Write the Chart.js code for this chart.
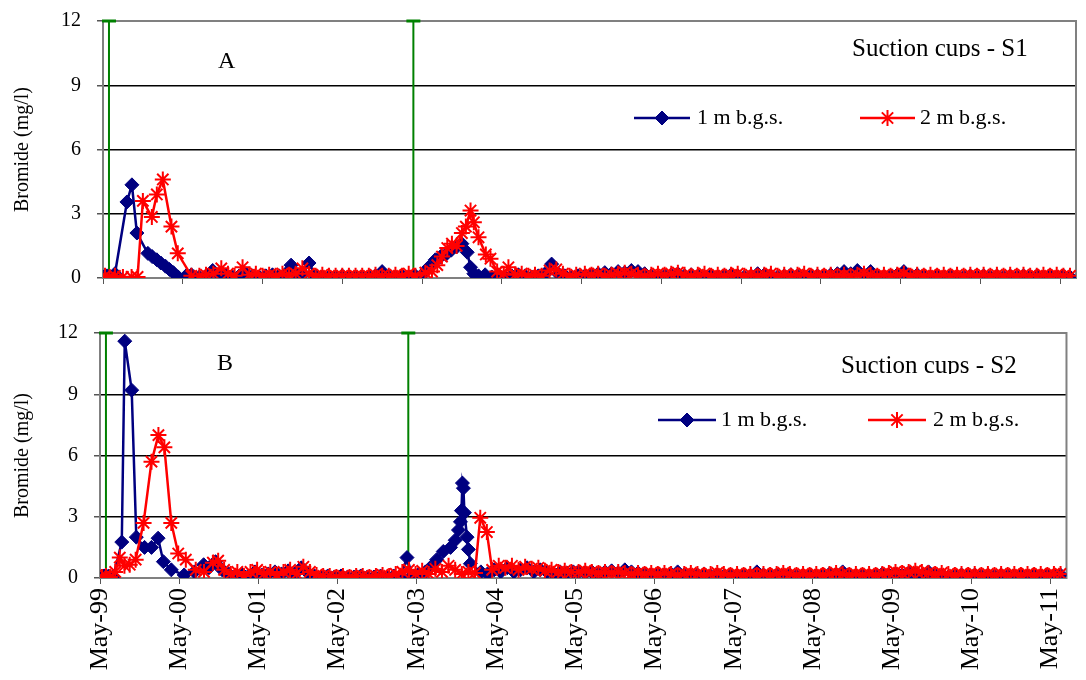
<!DOCTYPE html>
<html>
<head>
<meta charset="utf-8">
<script src="https://cdn.jsdelivr.net/npm/chart.js@4.4.1/dist/chart.umd.min.js"></script>
<style>
  body { margin: 0; background: #fff; width: 1086px; height: 680px; overflow: hidden; }
  .panel { position: absolute; left: 0; width: 1086px; }
  #panelA { top: 0; height: 300px; }
  #panelB { top: 300px; height: 380px; }
</style>
</head>
<body>
<div class="panel" id="panelA"><canvas id="chartA"></canvas></div>
<div class="panel" id="panelB"><canvas id="chartB"></canvas></div>
<script>
// x values are months since May 1999
const yearLabels = ['May-99', 'May-00', 'May-01', 'May-02', 'May-03', 'May-04', 'May-05',
  'May-06', 'May-07', 'May-08', 'May-09', 'May-10', 'May-11'];
const applicationMonths = [0.9, 46.7];

// regular sampling from mid 2005 on, shared by all cups
const tailMonths = [72.5, 73.5, 74.5, 75.5, 76.5, 77.5, 78.5, 79.5, 80.5, 81.5, 82.5, 83.5,
  84.5, 85.5, 86.5, 87.5, 88.5, 89.5, 90.5, 91.5, 92.5, 93.5, 94.5, 95.5,
  96.5, 97.5, 98.5, 99.5, 100.5, 101.5, 102.5, 103.5, 104.5, 105.5, 106.5, 107.5,
  108.5, 109.5, 110.5, 111.5, 112.5, 113.5, 114.5, 115.5, 116.5, 117.5, 118.5, 119.5,
  120.5, 121.5, 122.5, 123.5, 124.5, 125.5, 126.5, 127.5, 128.5, 129.5, 130.5, 131.5,
  132.5, 133.5, 134.5, 135.5, 136.5, 137.5, 138.5, 139.5, 140.5, 141.5, 142.5, 143.5, 144.5, 145.5];

// S1, 1 m
const s1Months1m = [0, 0.6, 1.2, 1.8, 3.6, 4.35, 5.1, 6.75, 7.4, 8.1, 8.7, 9.4, 10.0, 10.6, 11.3,
  12.5, 13.3, 14.5, 15.5, 16.5, 17.5, 18.5, 19.5, 20.5, 21.5, 22.5, 23.5,
  24.5, 25.5, 26.5, 27.5, 28.3, 29.2, 30.1, 31, 32, 33, 34, 35,
  36, 37, 38, 39, 40, 41, 42, 43, 44, 45, 46, 47,
  48, 49, 50, 50.8, 51.6, 52.4, 53.2, 54, 54.8, 55.3, 55.8, 56.5, 57.5, 58.5, 59.5,
  60.5, 61.5, 62.5, 63.5, 64.5, 65.5, 66.5, 67.5, 68.5, 69.5, 70.5, 71.5];
const s1Bromide1m = [0.05, 0.1, 0.05, 0.2, 3.55, 4.35, 2.1, 1.15, 1.0, 0.85, 0.7, 0.55, 0.4, 0.25, 0.05,
  0.1, 0.15, 0.05, 0.1, 0.35, 0.15, 0.1, 0.05, 0.1, 0.2, 0.1, 0.05,
  0.1, 0.15, 0.1, 0.2, 0.6, 0.15, 0.2, 0.7, 0.1, 0.05, 0.05, 0.05,
  0.1, 0.05, 0.05, 0.05, 0.05, 0.1, 0.3, 0.05, 0.05, 0.1, 0.05, 0.1,
  0.15, 0.5, 0.85, 1.0, 1.1, 1.3, 1.45, 1.6, 1.2, 0.5, 0.2, 0.1, 0.15, 0.05, 0.1,
  0.05, 0.1, 0.15, 0.1, 0.05, 0.1, 0.2, 0.65, 0.2, 0.1, 0.05, 0.1];
const s1Tail1m = [0.1, 0.15, 0.2, 0.25, 0.2, 0.3, 0.25, 0.35, 0.3, 0.2, 0.1, 0.05,
  0.1, 0.15, 0.2, 0.1, 0.15, 0.1, 0.05, 0.1, 0.05, 0.1, 0.15, 0.1,
  0.05, 0.1, 0.2, 0.15, 0.1, 0.05, 0.1, 0.15, 0.1, 0.05, 0.1, 0.1,
  0.1, 0.15, 0.2, 0.3, 0.2, 0.35, 0.15, 0.3, 0.1, 0.05, 0.1, 0.15,
  0.3, 0.1, 0.15, 0.1, 0.05, 0.1, 0.05, 0.1, 0.0, 0.05, 0.1, 0.05,
  0.1, 0.05, 0.1, 0.05, 0.1, 0.05, 0.1, 0.05, 0.1, 0.05, 0.1, 0.05, 0.1, 0.05];

// S1, 2 m
const s1Months2m = [0.3, 1.0, 1.8, 3.0, 4.3, 5.2, 6.0, 7.35, 8.1, 9.0, 10.3, 11.25,
  13.3, 14.5, 15.5, 16.6, 17.8, 18.8, 19.8, 21.0, 22.0, 23.0,
  24, 25, 26, 27, 28, 29, 30, 31, 32, 33, 34, 35,
  36, 37, 38, 39, 40, 41, 42, 43, 44, 45, 46, 47,
  48.5, 49.5, 50.3, 51, 51.8, 52.5, 53.2, 54, 54.6, 55.3, 55.8, 56.5, 57.6, 58.3, 59.3,
  60.3, 61, 62, 63, 64, 65, 66, 67.2, 68.2, 69.2, 70.2, 71.2];
const s1Bromide2m = [0.1, 0.05, 0.1, 0.05, 0.05, 0.05, 3.6, 2.85, 3.9, 4.6, 2.4, 1.15,
  0.1, 0.1, 0.15, 0.2, 0.45, 0.2, 0.1, 0.5, 0.15, 0.2,
  0.1, 0.15, 0.1, 0.2, 0.15, 0.2, 0.45, 0.2, 0.1, 0.15, 0.1, 0.1,
  0.1, 0.1, 0.1, 0.1, 0.1, 0.15, 0.1, 0.1, 0.15, 0.1, 0.2, 0.1,
  0.25, 0.3, 0.6, 1.0, 1.4, 1.6, 1.5, 2.1, 2.4, 3.15, 2.6, 1.9, 1.1, 0.9, 0.3,
  0.2, 0.5, 0.15, 0.2, 0.1, 0.15, 0.1, 0.35, 0.4, 0.2, 0.1, 0.15];
const s1Tail2m = [0.2, 0.15, 0.2, 0.1, 0.15, 0.2, 0.25, 0.2, 0.15, 0.1, 0.15, 0.2,
  0.15, 0.2, 0.25, 0.15, 0.1, 0.15, 0.2, 0.1, 0.15, 0.1, 0.15, 0.2,
  0.1, 0.15, 0.1, 0.15, 0.2, 0.1, 0.15, 0.1, 0.15, 0.2, 0.1, 0.15,
  0.1, 0.15, 0.1, 0.15, 0.1, 0.15, 0.2, 0.15, 0.1, 0.15, 0.1, 0.15,
  0.2, 0.1, 0.15, 0.1, 0.15, 0.1, 0.15, 0.1, 0.15, 0.1, 0.15, 0.1,
  0.15, 0.1, 0.15, 0.1, 0.15, 0.1, 0.15, 0.1, 0.1, 0.15, 0.1, 0.15, 0.1, 0.1];

// S2, 1 m
const s2Months1m = [0, 0.6, 1.3, 2.0, 3.3, 3.75, 4.8, 5.5, 6.75, 7.8, 8.8, 9.6, 10.8,
  12.75, 14.3, 15.7, 16.5, 17.5, 18.5, 19.5, 20.5, 21.5, 22.5, 23.5,
  24.5, 25.5, 26.5, 27.5, 28.5, 29.5, 30.5, 31.5, 32.5, 33.5, 34.5, 35.5,
  36.5, 37.5, 38.5, 39.5, 40.5, 41.5, 42.5, 43.5, 44.5, 45.5, 46.5,
  47.3, 48.3, 49.3, 50, 51, 52, 53.1, 53.8, 54.3, 54.6, 54.75, 54.9, 55.05, 55.2, 55.6, 55.8, 56.1, 57.7, 58.7, 59.7,
  60.7, 61.7, 62.7, 63.7, 64.7, 65.7, 66.7, 67.7, 68.7, 69.7, 70.7, 71.7];
const s2Bromide1m = [0.05, 0.1, 0.1, 0.05, 1.76, 11.6, 9.2, 2.0, 1.5, 1.5, 1.95, 0.8, 0.4,
  0.15, 0.3, 0.65, 0.5, 0.8, 0.4, 0.2, 0.1, 0.2, 0.1, 0.3,
  0.15, 0.2, 0.3, 0.2, 0.35, 0.2, 0.5, 0.25, 0.1, 0.05, 0.1, 0.05,
  0.1, 0.05, 0.05, 0.1, 0.05, 0.05, 0.1, 0.05, 0.1, 0.05, 1.0,
  0.1, 0.2, 0.3, 0.5, 0.9, 1.3, 1.5, 1.85, 2.35, 2.75, 3.3, 4.65, 4.4, 3.2, 2.0, 1.4, 0.7, 0.3, 0.2, 0.4,
  0.3, 0.5, 0.3, 0.4, 0.5, 0.3, 0.4, 0.3, 0.2, 0.3, 0.25, 0.3];
const s2Tail1m = [0.3, 0.25, 0.3, 0.2, 0.3, 0.35, 0.25, 0.4, 0.3, 0.25, 0.2, 0.15,
  0.2, 0.15, 0.2, 0.3, 0.15, 0.1, 0.15, 0.2, 0.1, 0.15, 0.1, 0.15,
  0.1, 0.15, 0.1, 0.3, 0.15, 0.1, 0.15, 0.1, 0.15, 0.1, 0.1, 0.15,
  0.1, 0.15, 0.2, 0.15, 0.3, 0.15, 0.1, 0.15, 0.1, 0.15, 0.2, 0.15,
  0.2, 0.15, 0.25, 0.2, 0.15, 0.3, 0.15, 0.1, 0.05, 0.1, 0.15, 0.1,
  0.15, 0.1, 0.15, 0.1, 0.15, 0.1, 0.1, 0.15, 0.1, 0.15, 0.1, 0.15, 0.1, 0.15];

// S2, 2 m
const s2Months2m = [0.3, 0.9, 1.5, 2.3, 3.0, 3.7, 4.5, 5.4, 6.6, 7.8, 8.85, 9.75, 10.8, 11.85,
  13.0, 14.5, 15.75, 17.1, 17.9, 18.8, 19.8, 20.8, 21.8, 22.8, 23.8,
  24.8, 25.8, 26.8, 27.8, 28.8, 29.8, 30.8, 31.8, 32.8, 33.8, 34.8, 35.8,
  36.8, 37.8, 38.8, 39.8, 40.8, 41.8, 42.8, 43.8, 44.8, 45.8, 46.8, 47.8,
  48.8, 49.8, 50.8, 51.8, 52.8, 53.8, 54.8, 55.8, 56.8, 57.6, 58.6, 59.4,
  60.4, 61.4, 62.4, 63.4, 64.4, 65.4, 66.4, 67.4, 68.4, 69.4, 70.4, 71.4];
const s2Bromide2m = [0.05, 0.1, 0.05, 0.3, 1.0, 0.6, 0.65, 0.9, 2.7, 5.7, 7.0, 6.4, 2.7, 1.2,
  0.9, 0.4, 0.3, 0.75, 0.85, 0.4, 0.2, 0.3, 0.1, 0.3, 0.4,
  0.2, 0.3, 0.15, 0.3, 0.4, 0.2, 0.55, 0.3, 0.15, 0.1, 0.1, 0.05,
  0.1, 0.05, 0.1, 0.1, 0.05, 0.1, 0.15, 0.1, 0.2, 0.3, 0.4, 0.2,
  0.35, 0.2, 0.45, 0.3, 0.6, 0.4, 0.2, 0.3, 0.25, 2.95, 2.25, 0.4,
  0.6, 0.5, 0.6, 0.4, 0.55, 0.45, 0.5, 0.35, 0.4, 0.3, 0.35, 0.3];
const s2Tail2m = [0.3, 0.35, 0.3, 0.25, 0.3, 0.25, 0.3, 0.25, 0.2, 0.25, 0.2, 0.25,
  0.2, 0.25, 0.2, 0.15, 0.2, 0.25, 0.2, 0.15, 0.2, 0.25, 0.2, 0.15,
  0.2, 0.15, 0.2, 0.15, 0.2, 0.15, 0.2, 0.25, 0.2, 0.15, 0.2, 0.15,
  0.2, 0.15, 0.2, 0.25, 0.2, 0.15, 0.2, 0.15, 0.2, 0.15, 0.2, 0.25,
  0.3, 0.25, 0.3, 0.35, 0.3, 0.25, 0.2, 0.25, 0.2, 0.15, 0.2, 0.15,
  0.2, 0.15, 0.2, 0.15, 0.2, 0.15, 0.2, 0.15, 0.2, 0.15, 0.2, 0.15, 0.2, 0.2];

const FONT = '"Liberation Serif", "Times New Roman", serif';

function toPoints(months, values) {
  return months.map((m, i) => ({ x: m, y: values[i] }));
}

// grey frame round the plot area, like the Excel plot area border
const framePlugin = {
  id: 'frame',
  beforeDatasetsDraw(chart) {
    const a = chart.chartArea;
    const ctx = chart.ctx;
    ctx.save();
    ctx.strokeStyle = '#808080';
    ctx.lineWidth = 2;
    ctx.strokeRect(a.left, a.top, a.right - a.left, a.bottom - a.top);
    ctx.restore();
  }
};

// panel letter, site title and the small legend box inside the plot
const notesPlugin = {
  id: 'notes',
  afterDatasetsDraw(chart, args, opts) {
    const ctx = chart.ctx;
    ctx.save();
    ctx.fillStyle = '#000';
    ctx.textBaseline = 'alphabetic';
    ctx.font = '24px ' + FONT;
    ctx.fillText(opts.letter, opts.letterX, opts.letterY);
    ctx.font = '25px ' + FONT;
    ctx.save();
    ctx.beginPath();
    ctx.rect(opts.titleX - 4, opts.titleY - 30, 260, 31);
    ctx.clip();
    ctx.fillText(opts.title, opts.titleX, opts.titleY);
    ctx.restore();

    ctx.font = '22px ' + FONT;
    ctx.textBaseline = 'middle';
    const series = chart.data.datasets.filter(d => d.label);
    series.forEach((d, i) => {
      const it = opts.legend[i];
      ctx.strokeStyle = d.borderColor;
      ctx.lineWidth = d.borderWidth;
      ctx.beginPath();
      ctx.moveTo(it.x0, opts.legendY);
      ctx.lineTo(it.x1, opts.legendY);
      ctx.stroke();
      ctx.fillStyle = d.pointBackgroundColor;
      ctx.strokeStyle = d.pointBorderColor;
      ctx.lineWidth = d.pointBorderWidth;
      Chart.helpers.drawPoint(ctx, {
        pointStyle: d.pointStyle, radius: d.pointRadius,
        borderWidth: d.pointBorderWidth, rotation: 0
      }, (it.x0 + it.x1) / 2, opts.legendY);
      ctx.fillStyle = '#000';
      ctx.fillText(d.label, it.tx, opts.legendY);
    });
    ctx.restore();
  }
};

function makePanel(canvasId, p) {
  const datasets = [
    {
      label: '1 m b.g.s.',
      data: toPoints(p.months1m.concat(tailMonths), p.bromide1m.concat(p.tail1m)),
      showLine: true,
      borderColor: '#000080',
      backgroundColor: '#000080',
      borderWidth: 2.5,
      pointStyle: 'rectRot',
      pointRadius: 7,
      pointBorderWidth: 1,
      pointBackgroundColor: '#000080',
      pointBorderColor: '#000080',
      order: 2
    },
    {
      label: '2 m b.g.s.',
      data: toPoints(p.months2m.concat(tailMonths), p.bromide2m.concat(p.tail2m)),
      showLine: true,
      borderColor: '#ff0000',
      backgroundColor: '#ff0000',
      borderWidth: 2.5,
      pointStyle: 'star',
      pointRadius: 8,
      pointBorderWidth: 2,
      pointBackgroundColor: '#ff0000',
      pointBorderColor: '#ff0000',
      order: 1
    }
  ];
  // bromide application dates
  applicationMonths.forEach(m => {
    datasets.push({
      data: [{ x: m, y: 0 }, { x: m, y: 12 }],
      showLine: true,
      clip: false,
      borderColor: '#008000',
      borderWidth: 2,
      pointStyle: 'line',
      pointRadius: c => (c.raw && c.raw.y === 12 ? 7 : 0),
      pointBorderColor: '#008000',
      pointBorderWidth: 3,
      order: 3
    });
  });

  return new Chart(document.getElementById(canvasId), {
    type: 'scatter',
    data: { datasets: datasets },
    plugins: [framePlugin, notesPlugin],
    options: {
      responsive: true,
      maintainAspectRatio: false,
      animation: false,
      layout: { padding: p.padding },
      plugins: {
        legend: { display: false },
        tooltip: { enabled: false },
        notes: p.notes
      },
      scales: {
        x: {
          type: 'linear',
          min: 0,
          max: 146.4,
          border: { color: '#808080', width: 2 },
          grid: { drawOnChartArea: false, drawTicks: true, tickLength: 6, tickColor: '#555' },
          ticks: {
            display: p.showXLabels,
            stepSize: 12,
            includeBounds: false,
            autoSkip: false,
            minRotation: 90,
            maxRotation: 90,
            padding: 4,
            color: '#000',
            font: { family: FONT, size: p.xFontSize },
            callback: v => yearLabels[v / 12] || ''
          },
          afterFit: s => { s.height = p.xAxisHeight; }
        },
        y: {
          min: 0,
          max: 12,
          border: { color: '#808080', width: 2 },
          grid: {
            color: c => ([3, 6, 9].includes(c.tick.value) ? '#000' : 'rgba(0,0,0,0)'),
            lineWidth: 1.5,
            tickLength: 6,
            tickColor: '#555'
          },
          ticks: { stepSize: 3, padding: 16, color: '#000', font: { family: FONT, size: 20 } },
          title: {
            display: true,
            text: 'Bromide (mg/l)',
            color: '#000',
            font: { family: FONT, size: 20 },
            padding: { top: 11, bottom: 0 }
          },
          afterFit: s => {
            s.width = p.yAxisWidth;
            // label overhang only; the tick padding is horizontal here
            s.paddingTop = 10;
            s.paddingBottom = 10;
          }
        }
      }
    }
  });
}

makePanel('chartA', {
  months1m: s1Months1m, bromide1m: s1Bromide1m, tail1m: s1Tail1m,
  months2m: s1Months2m, bromide2m: s1Bromide2m, tail2m: s1Tail2m,
  padding: { top: 21, right: 7, bottom: 0, left: 0 },
  yAxisWidth: 103,
  xAxisHeight: 22,
  xFontSize: 12,
  showXLabels: false,
  notes: {
    letter: 'A', letterX: 218, letterY: 68,
    title: 'Suction cups - S1', titleX: 852, titleY: 56,
    legendY: 118,
    legend: [{ x0: 634, x1: 690, tx: 697 }, { x0: 860, x1: 915, tx: 920 }]
  }
});

makePanel('chartB', {
  months1m: s2Months1m, bromide1m: s2Bromide1m, tail1m: s2Tail1m,
  months2m: s2Months2m, bromide2m: s2Bromide2m, tail2m: s2Tail2m,
  padding: { top: 33, right: 9, bottom: 0, left: 0 },
  yAxisWidth: 100,
  xAxisHeight: 102,
  xFontSize: 26,
  showXLabels: true,
  notes: {
    letter: 'B', letterX: 217, letterY: 70,
    title: 'Suction cups - S2', titleX: 841, titleY: 73,
    legendY: 120,
    legend: [{ x0: 658, x1: 716, tx: 721 }, { x0: 868, x1: 926, tx: 933 }]
  }
});
</script>
</body>
</html>
